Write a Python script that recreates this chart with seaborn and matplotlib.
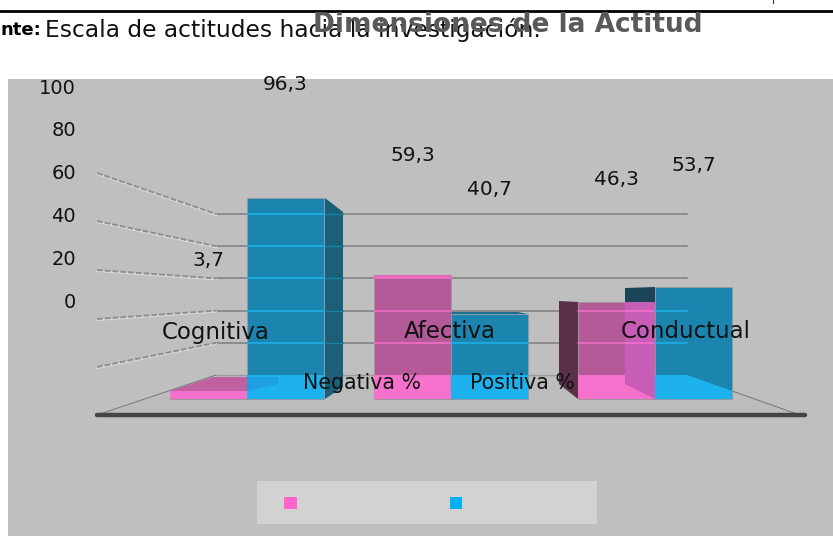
import matplotlib
matplotlib.use("Agg")
import matplotlib.pyplot as plt
from matplotlib.patches import Polygon, Rectangle
from matplotlib.transforms import Affine2D
import pandas as pd
import seaborn as sns

dimensiones = ["Cognitiva", "Afectiva", "Conductual"]
negativa = [3.7, 59.3, 46.3]
positiva = [96.3, 40.7, 53.7]
etiquetas_neg = ["3,7", "59,3", "46,3"]
etiquetas_pos = ["96,3", "40,7", "53,7"]
escala = [0, 20, 40, 60, 80, 100]

W, H = 833, 536
ROSA, ROSA_OSC = "#F571CB", "#B55A98"
AZUL, AZUL_OSC = "#1DB2EE", "#1B85B0"

df = pd.DataFrame({
    "dimension": dimensiones * 2,
    "actitud": ["Negativa %"] * 3 + ["Positiva %"] * 3,
    "valor": negativa + positiva,
})

sns.set_theme(style="white")
plt.rcParams["font.family"] = "DejaVu Sans"  # ancha, como el texto espaciado del original

fig = plt.figure(figsize=(W / 100, H / 100), dpi=100, facecolor="white")
ax = fig.add_axes([0, 0, 1, 1], facecolor="none")
px = Affine2D().scale(1, -1).translate(0, H)  # coordenadas en pixeles de la imagen


def poly(puntos, color, z, **kw):
    p = Polygon(puntos, closed=True, facecolor=color, edgecolor="none", transform=px, zorder=z, **kw)
    ax.add_patch(p)
    return p


def linea(xs, ys, color, lw, z, **kw):
    ax.plot(xs, ys, color=color, lw=lw, zorder=z, transform=px, solid_capstyle="round", **kw)


# barras: oscuras sobre la pared, claras sobre el piso
sns.barplot(data=df, x="dimension", y="valor", hue="actitud", order=dimensiones,
            palette=[ROSA_OSC, AZUL_OSC], width=0.755, gap=0, saturation=1, legend=False,
            linewidth=0, ax=ax)
barras = list(ax.patches)
sns.barplot(data=df, x="dimension", y="valor", hue="actitud", order=dimensiones,
            palette=[ROSA, AZUL], width=0.755, gap=0, saturation=1, legend=False,
            linewidth=0, ax=ax)
claras = list(ax.patches)[len(barras):]

ax.set_xlim(-247 / 204, (W - 247) / 204)
ax.set_ylim((399 - H) / 2.09, 399 / 2.09)
ax.set_autoscale_on(False)
ax.set_axis_off()

# fondo, pared y piso
ax.add_patch(Rectangle((8, 79), W - 8, H - 79, facecolor="#BFBFBF", edgecolor="none", transform=px, zorder=0))
piso = poly([(97, 415), (216, 375), (687, 375), (797, 414)], "#BCBCBC", 1)
linea([97, 216], [415, 375], "#777777", 0.7, 1.2)
linea([216, 687], [375, 375], "#9A9A9A", 1.0, 1.2)
linea([687, 797], [375, 414], "#777777", 0.7, 1.2)
linea([97, 805], [414.5, 414.5], "#454545", 3.2, 1.3)

for p in barras:
    p.set_zorder(3)
    p.set_edgecolor("#9A9A9A")
    p.set_linewidth(0.5)
for p in claras:
    p.set_zorder(3.2)
    p.set_edgecolor("none")
    p.set_clip_path(piso)

# lineas de la pared: 100 arriba, 0 en el piso
izq = [367, 319, 270, 221, 173]
grid_y = [375 - v * 1.61 for v in escala[1:]]
for gy, iy in zip(grid_y, izq):
    linea([216, 687], [gy, gy], "#8C8C8C", 1.4, 1.1)
    linea([97, 216], [iy + 1, gy + 1], "#DADADA", 1.4, 1.1)
    linea([97, 216], [iy, gy], "#8F8F8F", 1.4, 1.1, dashes=(3, 1))

# caras laterales
poly([(325, 198), (343, 212), (343, 387), (325, 399)], "#1A6079", 3.1)
poly([(170, 391), (213, 377), (278, 377), (278, 384), (247, 391)], "#C060A0", 2)
poly([(247, 391), (247, 377), (278, 377), (278, 384)], "#1E9FE0", 3.4)
poly([(452, 312), (518, 312), (528, 314), (451, 314)], "#1A6F90", 3.4)
poly([(374, 275), (451, 275), (451, 277.5), (374, 277.5)], "#E568BC", 3.4)
poly([(559, 301), (578, 302), (578, 399), (559, 384)], "#5A3048", 3.1)
poly([(625, 288), (655, 287), (655, 303), (625, 302)], "#1A4558", 3.4)
poly([(625, 302), (655, 302), (655, 399), (625, 384)], "#C85DB8", 3.4)

# lineas vistas a traves de las barras
to_px = ax.transData + px.inverted()
cols = [ROSA] * 3 + [AZUL] * 3
for p, c in zip(barras, cols):
    (x0, y0), (x1, y1) = to_px.transform([(p.get_x(), p.get_height()), (p.get_x() + p.get_width(), 0)])
    for gy in grid_y:
        if y0 < gy:
            linea([max(x0, 216), min(x1, 687)], [gy, gy], c, 1.1, 3.6)
for gy in grid_y:
    linea([325, 343], [gy, gy], "#1F7FA5", 1.0, 3.6)

# etiquetas de valor
alto_neg = [131, 120, 123]
alto_pos = [113, 124, 121]
for p, txt, dy in zip(barras, etiquetas_neg + etiquetas_pos, alto_neg + alto_pos):
    ax.annotate(txt, (p.get_x() + p.get_width() / 2, p.get_height()), xytext=(0, dy * 0.72),
                textcoords="offset points", ha="center", va="center", fontsize=14.5, color="#111111", zorder=6)

# dimensiones
for nombre, x in zip(dimensiones, [216, 450, 686]):
    ax.text(x, 332, nombre, transform=px, ha="center", va="center", fontsize=16.5, color="#111111", zorder=6)

# leyenda
ax.add_patch(Rectangle((257, 481), 340, 43, facecolor="#D2D2D2", edgecolor="none", transform=px, zorder=2))
ax.add_patch(Rectangle((284, 497), 13, 12, facecolor="#FF66CC", edgecolor="none", transform=px, zorder=2.5))
ax.add_patch(Rectangle((450, 497), 12, 12, facecolor="#00B0F0", edgecolor="none", transform=px, zorder=2.5))
ax.text(362, 383, "Negativa %", transform=px, ha="center", va="center", fontsize=14.8, color="#111111", zorder=6)
ax.text(522, 383, "Positiva %", transform=px, ha="center", va="center", fontsize=14.8, color="#111111", zorder=6)

# encabezado
linea([0, W], [11, 11], "black", 2.0, 5)
linea([773, 773], [0, 3], "#333333", 0.9, 5)
ax.text(0, 30, "nte:", transform=px, ha="left", va="center", fontsize=13, fontweight="bold", color="black", zorder=5)
ax.text(45, 30, "Escala de actitudes hacia la investigación.", transform=px, ha="left", va="center",
        fontsize=16.8, color="#111111", zorder=5)
ax.text(508, 25, "Dimensiones de la Actitud", transform=px, ha="center", va="center", fontsize=19,
        fontweight="bold", color="#595959", zorder=5.5)

# escala vertical
ax_y = fig.add_axes([76 / W, 1 - 300 / H, 1 / W, (300 - 86) / H], facecolor="none", zorder=5)
ax_y.set_ylim(0, 100)
ax_y.set_xticks([])
ax_y.set_yticks(escala)
ax_y.set_yticklabels([str(v) for v in escala], fontsize=14, color="#111111")
ax_y.tick_params(axis="y", length=0, pad=0)
sns.despine(ax=ax_y, left=True, bottom=True)

fig.savefig("out.png", dpi=100)
